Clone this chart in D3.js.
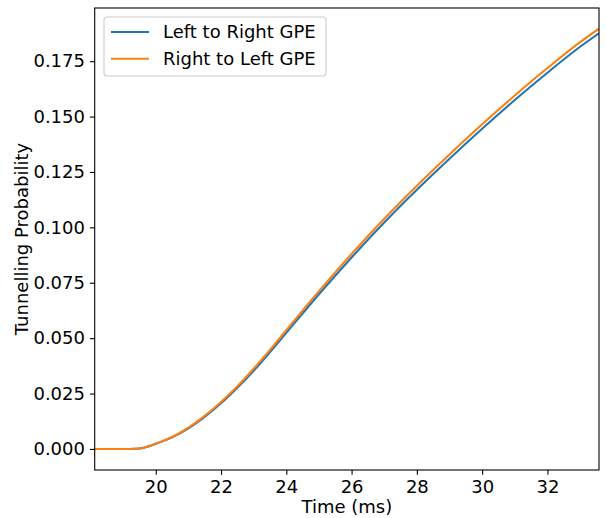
<!DOCTYPE html>
<html><head><meta charset="utf-8">
<script src="https://cdn.jsdelivr.net/npm/d3@7"></script>
<style>body{margin:0;background:#fff;} svg{display:block;}</style>
</head><body>
<svg id="c" width="606" height="518"></svg>
<script>
const times = [18.13, 19.0, 19.2, 19.5, 20.0, 20.5, 21.0, 21.5, 22.0, 22.5, 23.0, 23.5, 24.0, 25.0, 26.0, 27.0, 28.0, 29.0, 30.0, 31.0, 32.0, 33.0, 33.58];
const leftToRight = [0, 0, 0, 0.0002, 0.0023, 0.0052, 0.0093, 0.0145, 0.0206, 0.0276, 0.0353, 0.0437, 0.0524, 0.0698, 0.0864, 0.1022, 0.1170, 0.1310, 0.1445, 0.1575, 0.1698, 0.1815, 0.1876];
const rightToLeft = [0, 0, 0, 0.0002, 0.0024, 0.0054, 0.0096, 0.0149, 0.0212, 0.0283, 0.0362, 0.0447, 0.0536, 0.0712, 0.0880, 0.1039, 0.1188, 0.1329, 0.1465, 0.1595, 0.1719, 0.1836, 0.1897];
const seriesNames = ["Left to Right GPE", "Right to Left GPE"];
const colors = ["#1f77b4", "#ff7f0e"];
const xTicks = [20, 22, 24, 26, 28, 30, 32];
const yTicks = [0, 0.025, 0.05, 0.075, 0.1, 0.125, 0.15, 0.175];

const L = 94.7, R = 599, T = 8, B = 470;
const svg = d3.select("#c");
const font = "DejaVu Sans, sans-serif";
const fs = 18;
const x = d3.scaleLinear().domain([18.13, 33.58]).range([L, R]);
const y = d3.scaleLinear().domain([-0.0095, 0.199]).range([B, T]);

const g = svg.append("g");
svg.append("defs").append("clipPath").attr("id","cp").append("rect")
  .attr("x", L).attr("y", T).attr("width", R-L).attr("height", B-T);

const series = [leftToRight, rightToLeft];
const line = d3.line().x((d,i)=>x(times[i])).y(d=>y(d)).curve(d3.curveMonotoneX);
series.forEach((s,k)=>{
  g.append("path").datum(s).attr("d", line).attr("fill","none")
   .attr("stroke", colors[k]).attr("stroke-width", 2.08).attr("clip-path","url(#cp)");
});

const xAxis = d3.axisBottom(x).tickValues(xTicks).tickFormat(d3.format("d")).tickSize(4.86).tickPadding(4.86);
const yAxis = d3.axisLeft(y).tickValues(yTicks).tickFormat(d3.format(".3f")).tickSize(4.86).tickPadding(4.86);
const gx = svg.append("g").attr("transform", `translate(0,${B})`).call(xAxis);
const gy = svg.append("g").attr("transform", `translate(${L},0)`).call(yAxis);
[gx, gy].forEach(a=>{
  a.select(".domain").remove();
  a.selectAll("line").attr("stroke","#000").attr("stroke-width",1.1);
  a.selectAll("text").attr("font-family", font).attr("font-size", fs).attr("fill","#000");
});
svg.append("rect").attr("x",L).attr("y",T).attr("width",R-L).attr("height",B-T)
  .attr("fill","none").attr("stroke","#000").attr("stroke-width",1.1);

svg.append("text").attr("x",(L+R)/2).attr("y",513).attr("text-anchor","middle")
  .attr("font-family",font).attr("font-size",fs).text("Time (ms)");
svg.append("text").attr("transform",`translate(28,${(T+B)/2}) rotate(-90)`).attr("text-anchor","middle")
  .attr("font-family",font).attr("font-size",fs).text("Tunnelling Probability");

const lg = svg.append("g");
lg.append("rect").attr("x",104).attr("y",17).attr("width",222).attr("height",59).attr("rx",3)
  .attr("fill","#fff").attr("fill-opacity",0.8).attr("stroke","#cccccc").attr("stroke-width",1.1);
seriesNames.forEach((n,k)=>{
  const yy = 32 + k*26.7;
  lg.append("line").attr("x1",111).attr("x2",149).attr("y1",yy).attr("y2",yy)
    .attr("stroke",colors[k]).attr("stroke-width",2.08);
  lg.append("text").attr("x",163).attr("y",yy).attr("dy","0.35em")
    .attr("font-family",font).attr("font-size",fs).text(n);
});
</script>
</body></html>
